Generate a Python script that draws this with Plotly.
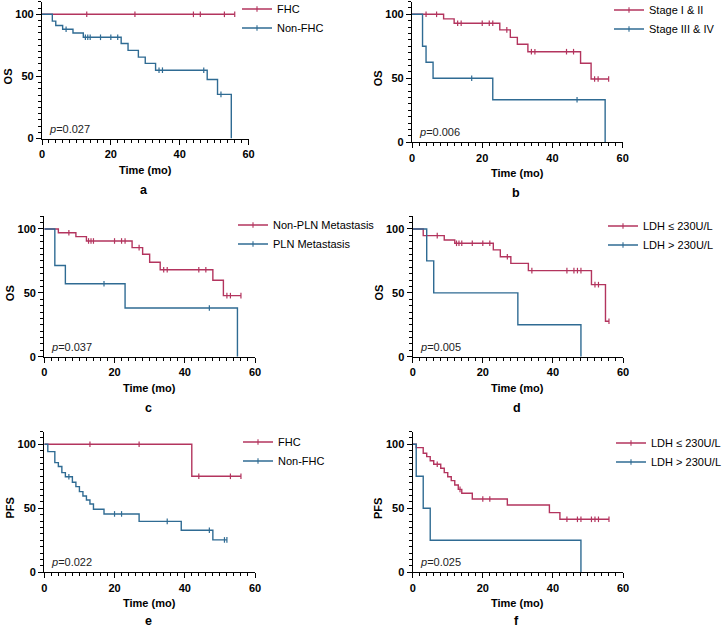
import plotly.graph_objects as go

W, H = 725, 629
FONT = "Liberation Sans, Arial, sans-serif"
RED = "#B3345E"
BLUE = "#2F6B93"

# ---------------- data ----------------
panel_letters = ["a", "b", "c", "d", "e", "f"]
y_titles = ["OS", "OS", "OS", "OS", "PFS", "PFS"]
p_values = ["0.027", "0.006", "0.037", "0.005", "0.022", "0.025"]
x_tick_step = 20
y_tick_step = 50

# panel a: family history (OS)
a_names = ["FHC", "Non-FHC"]
a1_events = []
a1_surv = []
a1_end = 56
a1_censor = [13, 27, 44, 46, 53, 56]
a2_events = [3, 4, 6, 9, 12, 23, 25, 28, 30, 33, 48, 51, 55]
a2_surv = [94.5, 91, 88, 85, 81.5, 76.5, 71, 65.5, 60.5, 55, 47.5, 35.5, 0]
a2_end = 55
a2_censor = [7, 12.6, 13.3, 14, 17, 20, 22, 34, 35, 47, 52]

# panel b: stage (OS)
b_names = ["Stage I & II", "Stage III & IV"]
b1_events = [9, 12, 25, 28, 30, 33, 48, 51]
b1_surv = [96.4, 93, 87.8, 82, 76.6, 70.8, 61.7, 49.5]
b1_end = 56
b1_censor = [4, 7, 13, 14, 20, 22, 23, 27, 34, 35, 44, 46, 52, 53, 56]
b2_events = [3, 4, 6, 23, 55]
b2_surv = [75, 62.5, 50, 33.3, 0]
b2_end = 55
b2_censor = [17, 47]

# panel c: PLN metastasis (OS)
c_names = ["Non-PLN Metastasis", "PLN Metastasis"]
c1_events = [4, 9, 12, 25, 28, 30, 33, 48, 51]
c1_surv = [97.1, 94, 90.6, 85.4, 80.2, 73.9, 68.1, 59.8, 47.8]
c1_end = 56
c1_censor = [7, 12.6, 13.3, 14, 20, 22, 23, 27, 34, 35, 44, 46, 52, 53, 56]
c2_events = [3, 6, 23, 55]
c2_surv = [71.4, 57.1, 38.1, 0]
c2_end = 55
c2_censor = [17, 47]

# panel d: LDH (OS)
d_names = ["LDH ≤ 230U/L", "LDH > 230U/L"]
d1_events = [3, 9, 12, 23, 25, 28, 33, 51, 55]
d1_surv = [94.8, 91.4, 88.8, 83.6, 78.3, 73.1, 67.4, 56.4, 27.7]
d1_end = 56
d1_censor = [7, 12.5, 13.2, 14, 17, 20, 22, 27, 34, 44, 46, 47, 48, 52, 53, 56]
d2_events = [4, 6, 30, 48]
d2_surv = [75, 50, 25, 0]
d2_end = 48
d2_censor = []

# panel e: family history (PFS)
e_names = ["FHC", "Non-FHC"]
e1_events = [42]
e1_surv = [75]
e1_end = 56
e1_censor = [13, 27, 44, 53, 56]
e2_events = [1, 3, 4, 5, 6, 8, 9, 10, 11, 12, 13, 14, 17, 27, 39, 48]
e2_surv = [94.3, 85.7, 82.6, 77.9, 74.7, 70.3, 66.9, 63, 59.6, 56.5, 53.4,
           49.2, 45.6, 39.8, 32.8, 25.3]
e2_end = 52
e2_censor = [7, 20, 22, 35, 47, 51.3, 52]

# panel f: LDH (PFS)
f_names = ["LDH ≤ 230U/L", "LDH > 230U/L"]
f1_events = [1, 3, 4, 5, 6, 8, 9, 10, 11, 12, 13, 14, 17, 27, 39, 42]
f1_surv = [97.4, 93, 90.4, 87.2, 84.4, 81.3, 77.9, 74.7, 71.6, 68.2, 64.8,
           61.7, 57.3, 52.6, 46.6, 41.4]
f1_end = 56
f1_censor = [7, 13.5, 20, 22, 44, 47, 48, 51, 52, 53, 56]
f2_events = [1, 3, 5, 48]
f2_surv = [75, 50, 25, 0]
f2_end = 48
f2_censor = []

panels = [
    (a_names, (a1_events, a1_surv, a1_end, a1_censor), (a2_events, a2_surv, a2_end, a2_censor)),
    (b_names, (b1_events, b1_surv, b1_end, b1_censor), (b2_events, b2_surv, b2_end, b2_censor)),
    (c_names, (c1_events, c1_surv, c1_end, c1_censor), (c2_events, c2_surv, c2_end, c2_censor)),
    (d_names, (d1_events, d1_surv, d1_end, d1_censor), (d2_events, d2_surv, d2_end, d2_censor)),
    (e_names, (e1_events, e1_surv, e1_end, e1_censor), (e2_events, e2_surv, e2_end, e2_censor)),
    (f_names, (f1_events, f1_surv, f1_end, f1_censor), (f2_events, f2_surv, f2_end, f2_censor)),
]

# ---------------- layout geometry (pixels) ----------------
boxes = [
    (42.0, 248.5, 1.9, 138.5),
    (412.0, 622.7, 1.5, 142.3),
    (44.3, 255.0, 216.2, 356.7),
    (412.7, 623.0, 216.2, 356.7),
    (44.3, 255.0, 431.5, 572.3),
    (412.7, 623.0, 431.5, 572.3),
]
legend_pos = [(277, 10), (649, 11), (273, 226), (643, 227), (278, 443), (651, 444)]


def px(x):
    return x / W


def py(y):
    return 1 - y / H


def step_xy(events, surv, end):
    xs = [0] + list(events)
    ys = [100] + list(surv)
    if end > xs[-1]:
        xs.append(end)
        ys.append(ys[-1])
    return xs, ys


def surv_at(events, surv, t):
    s = 100
    for e, v in zip(events, surv):
        if e <= t:
            s = v
    return s


fig = go.Figure()
layout = dict(
    width=W, height=H,
    margin=dict(l=0, r=0, t=0, b=0, autoexpand=False),
    paper_bgcolor="white", plot_bgcolor="white",
    font=dict(family=FONT, color="black", size=11),
    annotations=[],
)

for i, (names, g1, g2) in enumerate(panels):
    k = "" if i == 0 else str(i + 1)
    xa, ya = "x" + k, "y" + k
    leg = "legend" + k
    xl, xr, yt, yb = boxes[i]
    for name, (ev, sv, end, cens), col in zip(names, (g1, g2), (RED, BLUE)):
        xs, ys = step_xy(ev, sv, end)
        fig.add_trace(go.Scatter(
            x=xs, y=ys, mode="lines", line=dict(color=col, width=1.4, shape="hv"),
            xaxis=xa, yaxis=ya, showlegend=False, hoverinfo="skip"))
        if cens:
            fig.add_trace(go.Scatter(
                x=cens, y=[surv_at(ev, sv, t) for t in cens], mode="markers",
                marker=dict(symbol="line-ns", size=4, line=dict(color=col, width=1.2)),
                xaxis=xa, yaxis=ya, showlegend=False, hoverinfo="skip",
                cliponaxis=False))
        fig.add_trace(go.Scatter(
            x=[None], y=[None], mode="lines+markers", name=name,
            line=dict(color=col, width=1.3),
            marker=dict(symbol="line-ns", size=4, line=dict(color=col, width=1.1)),
            xaxis=xa, yaxis=ya, legend=leg, showlegend=True))

    axcommon = dict(
        showline=True, linecolor="black", linewidth=1.3, showgrid=False, zeroline=False,
        ticks="outside", ticklen=5, tickwidth=1.3, tickcolor="black", tickmode="linear",
        tickfont=dict(family=FONT, size=11, color="black", weight="bold"),
    )
    layout["xaxis" + k] = dict(
        axcommon, domain=[px(xl), px(xr)], range=[0, 60], anchor=ya,
        tick0=0, dtick=x_tick_step,
        minor=dict(dtick=2, tick0=0, ticks="outside", ticklen=3, tickwidth=1.1,
                   tickcolor="black", showgrid=False),
    )
    layout["yaxis" + k] = dict(
        axcommon, domain=[py(yb), py(yt)], range=[0, 110], anchor=xa,
        tick0=0, dtick=y_tick_step,
        minor=dict(dtick=5, tick0=0, ticks="outside", ticklen=3, tickwidth=1.1,
                   tickcolor="black", showgrid=False),
    )
    lx, ly = legend_pos[i]
    layout[leg] = dict(
        x=px(lx - 40), y=py(ly - 15.5), xanchor="left", yanchor="top",
        bgcolor="rgba(0,0,0,0)", font=dict(family=FONT, size=11, color="black"),
        tracegroupgap=0, itemwidth=30,
    )
    cx = (xl + xr) / 2
    ann = layout["annotations"]
    ann.append(dict(xref="paper", yref="paper", x=px(cx), y=py(yb + 31), text="Time (mo)",
                    showarrow=False, xanchor="center", yanchor="middle",
                    font=dict(family=FONT, size=11, color="black", weight="bold")))
    ann.append(dict(xref="paper", yref="paper", x=px(cx - 1), y=py(min(yb + 51, 621)),
                    text=panel_letters[i], showarrow=False, xanchor="center", yanchor="middle",
                    borderpad=0,
                    font=dict(family=FONT, size=12.5, color="black", weight="bold")))
    ymid = yb - (yb - yt) * 50 / 110
    ann.append(dict(xref="paper", yref="paper", x=px(xl - 34), y=py(ymid), text=y_titles[i],
                    textangle=-90, showarrow=False, xanchor="center", yanchor="middle",
                    font=dict(family=FONT, size=11, color="black", weight="bold")))
    ann.append(dict(xref="paper", yref="paper", x=px(xl + 5), y=py(yb - 10),
                    text="<i>p</i>=" + p_values[i], showarrow=False,
                    xanchor="left", yanchor="middle",
                    font=dict(family=FONT, size=11, color="#222222")))

fig.update_layout(**layout)
fig.write_html("out.html")
